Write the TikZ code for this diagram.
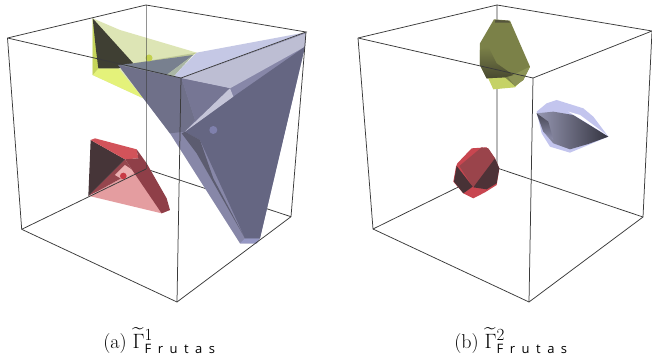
\documentclass[tikz,border=0pt]{standalone}
\usepackage{amsmath}
\usepackage{fontspec}
\newfontfamily\frfont[LetterSpace=50]{Open Sans}
\definecolor{edgec}{HTML}{3A3A3A}
\newcommand{\fruta}{\mbox{\fontsize{13}{14}\selectfont\frfont Frutas}}
\newcommand{\upidx}[1]{\mbox{\fontsize{17}{18}\selectfont #1}}
\tikzset{
  edge/.style={draw=edgec,line width=0.75pt},
  faintedge/.style={draw=edgec,line width=0.7pt,opacity=.55},
  caption/.style={inner sep=0pt,anchor=base,font=\fontsize{20}{22}\selectfont},
  face/.style={draw=none},
  zoomed/.style={x=0.3333pt,y=-0.3333pt}
}
\begin{document}
\begin{tikzpicture}[x=1pt,y=-1pt]
\useasboundingbox[fill=white] (0,0) rectangle (652,358);
% ---------- left cube corners
\coordinate (a1) at (7.5,38); \coordinate (b1) at (146,5); \coordinate (c1) at (306,32); \coordinate (d1) at (181,78);
\coordinate (e1) at (21.7,229.3); \coordinate (f1) at (177,302); \coordinate (g1) at (291,216.7); \coordinate (h1) at (146,169);
% ---------- right cube corners
\coordinate (a2) at (358,38); \coordinate (b2) at (497,5); \coordinate (c2) at (652,31); \coordinate (d2) at (533,78);
\coordinate (e2) at (373,229); \coordinate (f2) at (529,302); \coordinate (g2) at (643,217); \coordinate (h2) at (497,168);
% back edges hidden by solids
\draw[edge] (h1)--(g1);
\draw[edge] (b2)--(h2) (e2)--(h2)--(g2);
% ---------- left: yellow solid
\begin{scope}[zoomed]
\fill[face,fill={rgb,255:red,221;green,229;blue,181}] (278,55)--(360,90)--(590,158)--(505,225)--(430,295)--(278,225)--cycle;
\fill[face,fill={rgb,255:red,228;green,242;blue,122}] (278,225)--(295,205)--(355,205)--(430,295)--cycle;
\fill[face,fill={rgb,255:red,197;green,212;blue,90}] (278,55)--(295,178)--(295,205)--(278,225)--cycle;
\fill[face,fill={rgb,255:red,63;green,63;blue,51}] (278,55)--(400,190)--(355,205)--(295,205)--(288,150)--cycle;
\fill[face,fill={rgb,255:red,190;green,200;blue,150}] (400,190)--(590,158)--(560,175)--(430,205)--cycle;
\end{scope}
% ---------- left: blue solid
\begin{scope}[zoomed]
\fill[face,fill={rgb,255:red,135;green,135;blue,168}] (355,195)--(430,295)--(510,400)--(720,730)--(770,730)--(780,715)--(915,140)--(918,97)--(545,235)--cycle;
\fill[face,fill={rgb,255:red,150;green,152;blue,196}] (720,730)--(735,715)--(780,715)--(770,730)--cycle;
\fill[face,fill={rgb,255:red,197;green,200;blue,229}] (520,230)--(590,158)--(918,97)--(545,235)--cycle;
\fill[face,fill={rgb,255:red,120;green,128;blue,143}] (400,190)--(580,165)--(500,225)--(545,235)--(355,195)--cycle;
\fill[face,fill={rgb,255:red,170;green,182;blue,165}] (580,165)--(520,230)--(500,225)--cycle;
\fill[face,fill={rgb,255:red,189;green,190;blue,211}] (545,235)--(918,100)--(915,140)--(690,265)--cycle;
\fill[face,fill={rgb,255:red,111;green,112;blue,137}] (355,195)--(545,235)--(585,360)--(555,395)--(510,400)--cycle;
\fill[face,fill={rgb,255:red,118;green,118;blue,148}] (545,235)--(690,265)--(555,395)--(585,360)--cycle;
\fill[face,fill={rgb,255:red,101;green,102;blue,130}] (700,290)--(915,140)--(780,715)--(735,715)--(600,420)--(555,395)--cycle;
\fill[face,fill={rgb,255:red,92;green,92;blue,112}] (555,395)--(600,420)--(640,535)--(735,715)--(590,460)--(545,400)--cycle;
\fill[face,fill={rgb,255:red,197;green,197;blue,216}] (690,265)--(700,290)--(555,395)--cycle;
\fill[face,fill={rgb,255:red,127;green,128;blue,172}] (640,390) circle[radius=12];
\end{scope}
\node[circle,inner sep=0pt,minimum size=7pt,fill={rgb,255:red,195;green,209;blue,79}] (ydot) at (149,58) {};
% ---------- left: red solid
\begin{scope}[zoomed,shift={(0pt,-130pt)}]
\fill[face,fill={rgb,255:red,228;green,157;blue,160}] (268,198)--(400,125)--(510,240)--(485,250)--cycle;
\fill[face,fill={rgb,255:red,150;green,70;blue,78}] (375,88)--(400,125)--(300,180)--(265,198)--cycle;
\fill[face,fill={rgb,255:red,236;green,175;blue,177}] (375,105)--(405,125)--(370,150)--(345,135)--cycle;
\fill[face,fill={rgb,255:red,70;green,53;blue,56}] (272,30)--(375,88)--(265,198)--cycle;
\fill[face,fill={rgb,255:red,210;green,83;blue,90}] (272,30)--(285,25)--(410,58)--(415,85)--(375,88)--cycle;
\fill[face,fill={rgb,255:red,143;green,63;blue,72}] (375,88)--(415,85)--(410,58)--(440,100)--(500,205)--(510,240)--(485,250)--(400,125)--cycle;
\fill[face,fill={rgb,255:red,200;green,58;blue,69}] (370,138) circle[radius=10];
\end{scope}
% left cube edges over the solids
\draw[faintedge] (b1)--(h1);
\draw[edge] (e1)--(h1);
\draw[edge] (a1)--(b1)--(c1)--(d1)--(a1);
\draw[edge] (a1)--(e1)--(f1)--(g1)--(c1);
\draw[edge] (d1)--(f1);
% ---------- right: green solid
\begin{scope}[zoomed,shift={(340pt,0pt)}]
\fill[face,fill={rgb,255:red,197;green,210;blue,102}] (440,225)--(550,235)--(525,262)--(460,268)--cycle;
\fill[face,fill={rgb,255:red,123;green,129;blue,72}] (462,58)--(510,62)--(570,200)--(550,240)--(525,258)--(495,232)--(440,235)--(420,195)--(420,130)--cycle;
\fill[face,fill={rgb,255:red,140;green,147;blue,85}] (505,232)--(570,200)--(550,240)--(525,258)--cycle;
\shade[face,top color={rgb,255:red,123;green,129;blue,72},bottom color={rgb,255:red,72;green,72;blue,48}] (420,150)--(445,140)--(470,190)--(520,225)--(495,232)--(440,235)--(420,195)--cycle;
\fill[face,fill={rgb,255:red,85;green,85;blue,60}] (466,60)--(505,62)--(510,68)--(465,68)--cycle;
\end{scope}
% ---------- right: blue solid
\begin{scope}[zoomed,shift={(340pt,0pt)}]
\fill[face,fill={rgb,255:red,195;green,197;blue,238}] (590,335)--(620,310)--(650,300)--(730,325)--(760,350)--(805,410)--(745,435)--(690,458)--(630,440)--(605,400)--cycle;
\shade[face,shading angle=135,left color={rgb,255:red,150;green,151;blue,178},right color={rgb,255:red,52;green,52;blue,64}] (590,340)--(640,335)--(700,345)--(805,410)--(745,432)--(690,448)--(640,430)--(610,395)--cycle;
\shade[face,top color={rgb,255:red,70;green,70;blue,84},bottom color={rgb,255:red,140;green,141;blue,170}] (590,340)--(625,365)--(640,420)--(610,395)--cycle;
\fill[face,fill=white] (685,335)--(720,345)--(800,405)--(730,362)--cycle;
\end{scope}
% ---------- right: red solid
\begin{scope}[zoomed,shift={(340pt,-130pt)}]
\fill[face,fill={rgb,255:red,200;green,70;blue,80}] (352,100)--(395,55)--(440,52)--(465,85)--(478,115)--(470,165)--(435,187)--(400,205)--(370,190)--(340,155)--(348,110)--cycle;
\fill[face,fill={rgb,255:red,154;green,68;blue,75}] (358,108)--(425,52)--(445,55)--(465,85)--(440,160)--(398,170)--cycle;
\fill[face,fill={rgb,255:red,72;green,50;blue,54}] (350,108)--(398,170)--(370,190)--(342,155)--cycle;
\fill[face,fill={rgb,255:red,78;green,50;blue,55}] (465,85)--(478,115)--(470,160)--(440,178)--(400,172)--cycle;
\end{scope}
% right cube edges over the solids
\draw[edge] (a2)--(b2)--(c2)--(d2)--(a2);
\draw[edge] (a2)--(e2)--(f2)--(g2)--(c2);
\draw[edge] (d2)--(f2);
% ---------- captions
\node[caption] (capa) at (159.5,348) {(a) $\widetilde{\Gamma}^{\upidx{1}}_{\fruta}$};
\node[caption] (capb) at (511,348) {(b) $\widetilde{\Gamma}^{\upidx{2}}_{\fruta}$};
\end{tikzpicture}
\end{document}
